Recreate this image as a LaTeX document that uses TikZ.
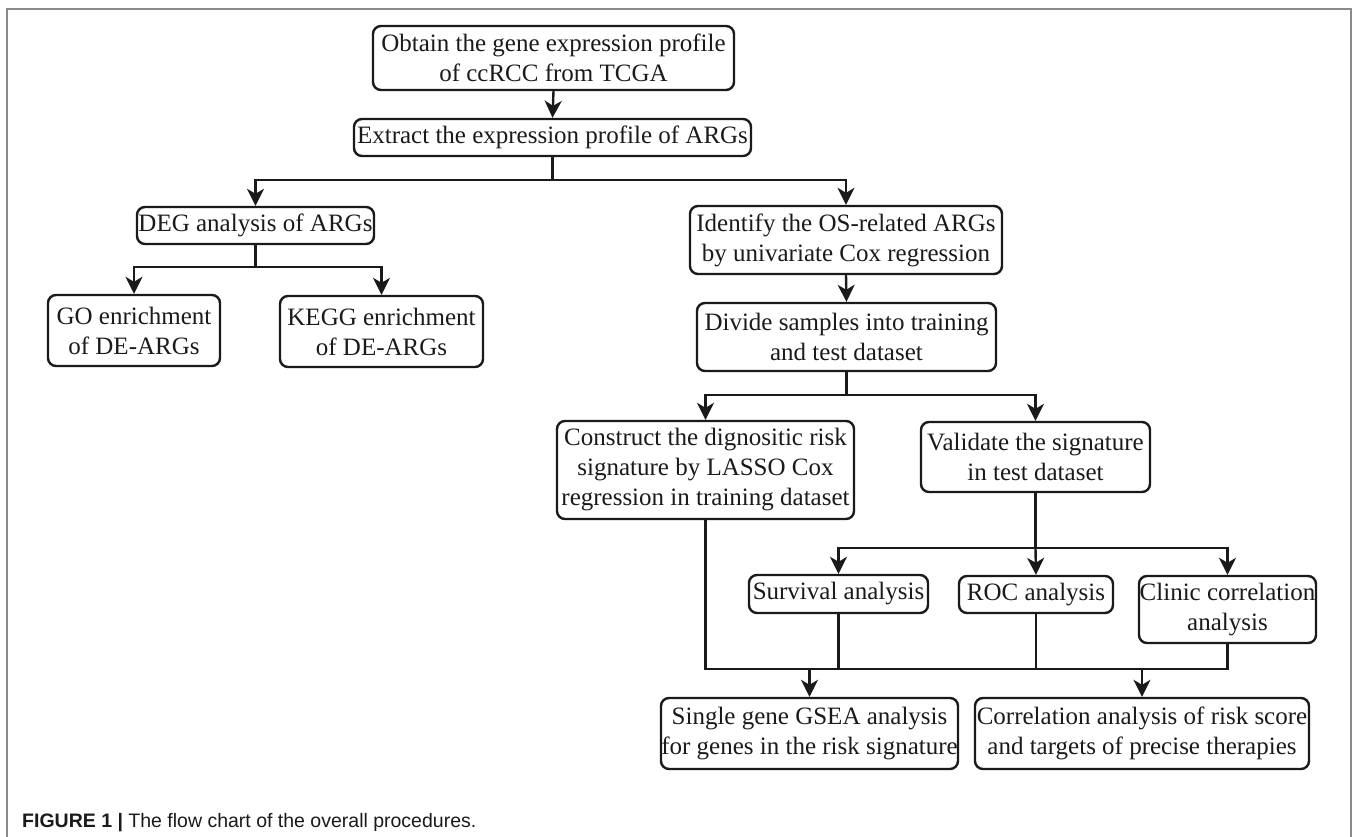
\documentclass[tikz,border=0pt]{standalone}
\usepackage{fontspec}
\setmainfont{Liberation Serif}
\newfontfamily\capfont{Liberation Sans}
\usetikzlibrary{arrows.meta}
\definecolor{ink}{HTML}{1A1A1A}
\definecolor{framegray}{HTML}{8A8A8A}
\tikzset{
  stepbox/.style={draw=ink, rounded corners=8pt, line width=2.4pt, inner sep=0pt,
    align=center, text=ink, font=\fontsize{25}{30}\selectfont},
  link/.style={draw=ink, line width=2.4pt},
  arr/.style={link, -{Stealth[length=17pt,width=17pt,inset=5pt]}}
}
\begin{document}
\begin{tikzpicture}[x=1pt,y=-1pt]
\useasboundingbox (0,0) rectangle (1358,837);
% frame
\draw[framegray, line width=2pt] (7,840) -- (7,9) -- (1351,9) -- (1351,840);

% nodes
\node[stepbox, minimum width=361pt, minimum height=64pt] (obtain) at (553.5,58) {Obtain the gene expression profile\\of ccRCC from TCGA};
\node[stepbox, minimum width=397pt, minimum height=37pt] (extract) at (552.5,137.5) {Extract the expression profile of ARGs};
\node[stepbox, minimum width=237pt, minimum height=37pt] (deg) at (255.5,225.5) {DEG analysis of ARGs};
\node[stepbox, minimum width=172pt, minimum height=71pt] (go) at (134,330.5) {GO enrichment\\of DE-ARGs};
\node[stepbox, minimum width=203pt, minimum height=71pt] (kegg) at (381.5,331.5) {KEGG enrichment\\of DE-ARGs};
\node[stepbox, minimum width=312pt, minimum height=68pt] (identify) at (846,240) {Identify the OS-related ARGs\\by univariate Cox regression};
\node[stepbox, minimum width=299pt, minimum height=68pt] (divide) at (846.5,337) {Divide samples into training\\and test dataset};
\node[stepbox, minimum width=297pt, minimum height=98pt] (construct) at (705.5,470) {Construct the dignositic risk\\signature by LASSO Cox\\regression in training dataset};
\node[stepbox, minimum width=229pt, minimum height=70pt] (validate) at (1035.5,457) {Validate the signature\\in test dataset};
\node[stepbox, minimum width=179pt, minimum height=38pt] (survival) at (838.5,594) {Survival analysis};
\node[stepbox, minimum width=154pt, minimum height=37pt] (roc) at (1036,594.5) {ROC analysis};
\node[stepbox, minimum width=177pt, minimum height=67pt] (clinic) at (1227.5,609.5) {Clinic correlation\\analysis};
\node[stepbox, minimum width=297pt, minimum height=71pt] (single) at (809.5,733.5) {Single gene GSEA analysis\\for genes in the risk signature};
\node[stepbox, minimum width=334pt, minimum height=71pt] (correl) at (1142,733.5) {Correlation analysis of risk score\\and targets of precise therapies};

% connectors
\draw[arr] (obtain.south) -- (extract.north);

\draw[link] (extract.south) -- ++(0,23) coordinate (j1);
\draw[arr] (j1) -| (deg.north);
\draw[arr] (j1) -| (identify.north);

\draw[link] (deg.south) -- ++(0,22) coordinate (j2);
\draw[arr] (j2) -| (go.north);
\draw[arr] (j2) -| (kegg.north);

\draw[arr] (identify.south) -- (divide.north);

\draw[link] (divide.south) -- ++(0,23) coordinate (j3);
\draw[arr] (j3) -| (construct.north);
\draw[arr] (j3) -| (validate.north);

\draw[link] (validate.south) -- ++(0,55) coordinate (j4);
\draw[arr] (j4) -| (survival.north);
\draw[arr] (j4) -- (roc.north);
\draw[arr] (j4) -| (clinic.north);

\coordinate (m) at (0,669);
\draw[link] (construct.south) |- (clinic.south |- m) -- (clinic.south);
\draw[link] (survival.south) -- (survival.south |- m);
\draw[link] (roc.south) -- (roc.south |- m);
\draw[arr] (single.north |- m) -- (single.north);
\draw[arr] (correl.north |- m) -- (correl.north);

% caption
\node[anchor=base west, inner sep=0pt, font=\capfont\fontsize{19.5}{23}\selectfont, text=ink] (caption) at (22,827)
  {\textbf{FIGURE 1 |} The flow chart of the overall procedures.};
\end{tikzpicture}
\end{document}
